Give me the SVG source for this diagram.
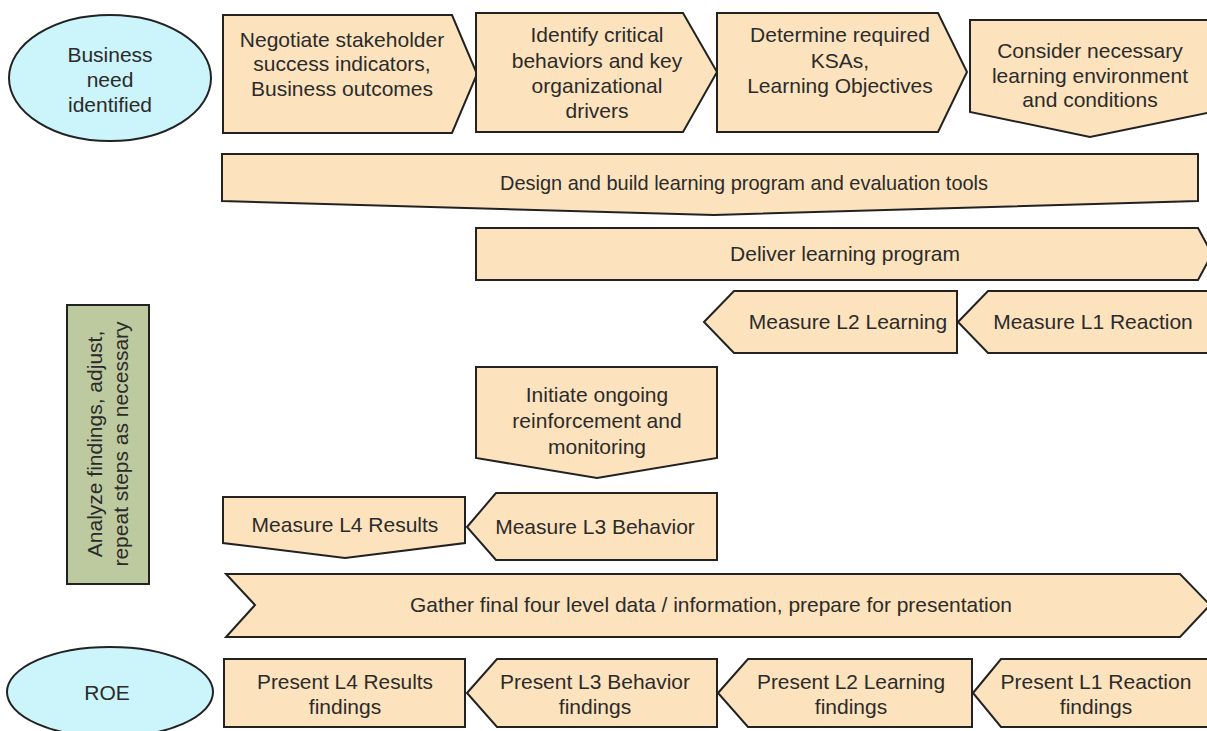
<svg xmlns="http://www.w3.org/2000/svg" width="1207" height="731" viewBox="0 0 1207 731">
<style>
.b{fill:#fde3bd;stroke:#222;stroke-width:2;stroke-linejoin:miter}
.e{fill:#cbf4fb;stroke:#222;stroke-width:2}
.g{fill:#bdca9f;stroke:#222;stroke-width:2}
text{font-family:"Liberation Sans",Arial,sans-serif;font-size:21px;fill:#2b2b2b;text-anchor:middle}
</style>
<rect width="1207" height="731" fill="#ffffff"/>
<g id="connectors"/>
<g id="n-business">
<ellipse class="e" cx="110" cy="78" rx="101" ry="63"/>
<text x="110" y="62">Business</text>
<text x="110" y="87">need</text>
<text x="110" y="112">identified</text>
</g>
<g id="n-negotiate">
<polygon class="b" points="223,15 452,15 477,74 452,133 223,133"/>
<text x="342" y="47">Negotiate stakeholder</text>
<text x="342" y="71">success indicators,</text>
<text x="342" y="96">Business outcomes</text>
</g>
<g id="n-identify">
<polygon class="b" points="476,13 683,13 717,72 683,132 476,132"/>
<text x="597" y="42">Identify critical</text>
<text x="597" y="68">behaviors and key</text>
<text x="597" y="93">organizational</text>
<text x="597" y="118">drivers</text>
</g>
<g id="n-determine">
<polygon class="b" points="717,13 938,13 967,72 938,132 717,132"/>
<text x="840" y="42">Determine required</text>
<text x="840" y="68">KSAs,</text>
<text x="840" y="93">Learning Objectives</text>
</g>
<g id="n-consider">
<polygon class="b" points="970,20 1212,20 1212,112 1090,137 970,112"/>
<text x="1090" y="58">Consider necessary</text>
<text x="1090" y="83">learning environment</text>
<text x="1090" y="107">and conditions</text>
</g>
<g id="n-design">
<polygon class="b" points="222,154 1198,154 1198,201 714,215 222,201"/>
<text x="744" y="190" textLength="488" lengthAdjust="spacingAndGlyphs">Design and build learning program and evaluation tools</text>
</g>
<g id="n-deliver">
<polygon class="b" points="476,228 1198,228 1212,254 1198,280 476,280"/>
<text x="845" y="261">Deliver learning program</text>
</g>
<g id="n-l2">
<polygon class="b" points="704,322 734,291 957,291 957,353 734,353"/>
<text x="848" y="329">Measure L2 Learning</text>
</g>
<g id="n-l1">
<polygon class="b" points="958,322 988,291 1212,291 1212,353 988,353"/>
<text x="1093" y="329">Measure L1 Reaction</text>
</g>
<g id="n-analyze">
<rect class="g" x="67" y="305" width="82" height="279"/>
<text transform="translate(108,444) rotate(-90)" x="0" y="-6">Analyze findings, adjust,</text>
<text transform="translate(108,444) rotate(-90)" x="0" y="20">repeat steps as necessary</text>
</g>
<g id="n-initiate">
<polygon class="b" points="476,367 717,367 717,458 597,478 476,458"/>
<text x="597" y="402">Initiate ongoing</text>
<text x="597" y="428">reinforcement and</text>
<text x="597" y="454">monitoring</text>
</g>
<g id="n-l4">
<polygon class="b" points="223,497 465,497 465,543 345,558 223,543"/>
<text x="345" y="532">Measure L4 Results</text>
</g>
<g id="n-l3">
<polygon class="b" points="467,527 496,493 717,493 717,560 496,560"/>
<text x="595" y="534">Measure L3 Behavior</text>
</g>
<g id="n-gather">
<polygon class="b" points="226,574 1180,574 1210,605 1180,637 226,637 255,605"/>
<text x="711" y="612" textLength="602" lengthAdjust="spacingAndGlyphs">Gather final four level data / information, prepare for presentation</text>
</g>
<g id="n-roe">
<ellipse class="e" cx="110" cy="692" rx="103" ry="45"/>
<text x="107" y="700">ROE</text>
</g>
<g id="n-p4">
<rect class="b" x="224" y="659" width="241" height="68"/>
<text x="345" y="689" textLength="176" lengthAdjust="spacingAndGlyphs">Present L4 Results</text>
<text x="345" y="714">findings</text>
</g>
<g id="n-p3">
<polygon class="b" points="467,693 497,659 717,659 717,727 497,727"/>
<text x="595" y="689" textLength="190" lengthAdjust="spacingAndGlyphs">Present L3 Behavior</text>
<text x="595" y="714">findings</text>
</g>
<g id="n-p2">
<polygon class="b" points="718,693 748,659 972,659 972,727 748,727"/>
<text x="851" y="689" textLength="188" lengthAdjust="spacingAndGlyphs">Present L2 Learning</text>
<text x="851" y="714">findings</text>
</g>
<g id="n-p1">
<polygon class="b" points="973,693 1001,659 1212,659 1212,727 1001,727"/>
<text x="1096" y="689" textLength="191" lengthAdjust="spacingAndGlyphs">Present L1 Reaction</text>
<text x="1096" y="714">findings</text>
</g>
</svg>
